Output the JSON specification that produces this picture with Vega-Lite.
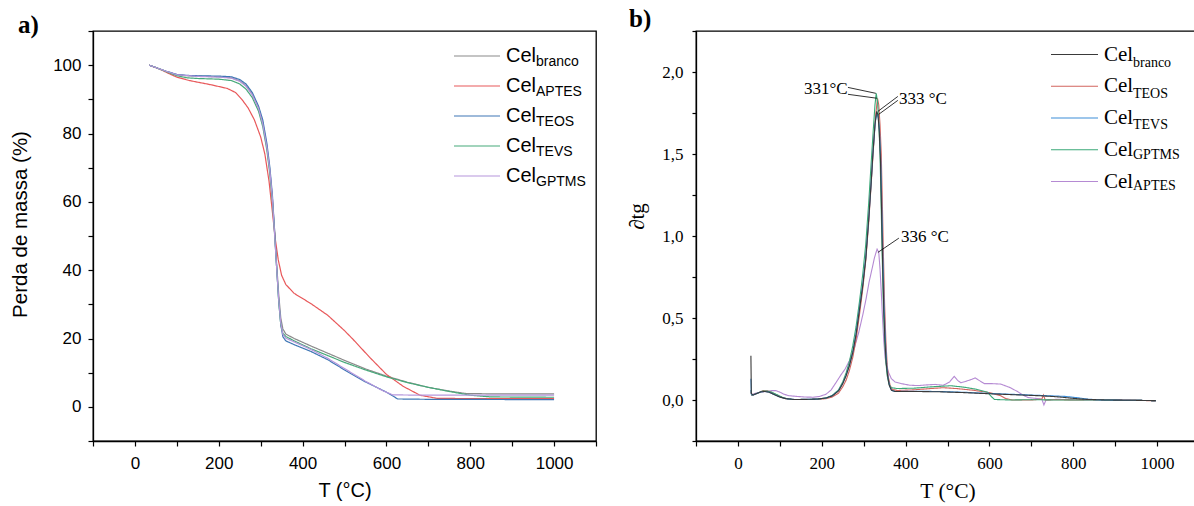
{
  "$schema": "https://vega.github.io/schema/vega-lite/v6.json",
  "background": "white",
  "padding": {"left": 9, "top": 6, "right": 0, "bottom": 0},
  "bounds": "flush",
  "spacing": 100,
  "resolve": {"scale": {"color": "independent", "strokeDash": "independent", "x": "independent", "y": "independent"}, "legend": {"color": "independent", "strokeDash": "independent"}},
  "config": {
    "view": {"stroke": "black", "strokeWidth": 1.3},
    "axis": {"grid": false, "domainColor": "black", "tickColor": "black", "labelColor": "black", "titleColor": "black", "titleFontWeight": "normal", "tickSize": 5, "domainWidth": 1.3, "tickWidth": 1.2}
  },
  "datasets": {
    "tga": [
      {"s":"branco","T":34,"m":100},{"s":"branco","T":50,"m":99.3},{"s":"branco","T":75,"m":98.2},{"s":"branco","T":100,"m":97.2},{"s":"branco","T":125,"m":96.9},{"s":"branco","T":150,"m":96.8},{"s":"branco","T":200,"m":96.6},{"s":"branco","T":230,"m":96.3},{"s":"branco","T":250,"m":95.4},{"s":"branco","T":265,"m":94},{"s":"branco","T":280,"m":91.5},{"s":"branco","T":295,"m":87.5},{"s":"branco","T":305,"m":83},{"s":"branco","T":315,"m":76},{"s":"branco","T":322,"m":69},{"s":"branco","T":328,"m":61},{"s":"branco","T":333,"m":52},{"s":"branco","T":338,"m":42},{"s":"branco","T":343,"m":33},{"s":"branco","T":348,"m":26},{"s":"branco","T":353,"m":22.8},{"s":"branco","T":360,"m":21.3},{"s":"branco","T":380,"m":20},{"s":"branco","T":420,"m":17.8},{"s":"branco","T":460,"m":15.7},{"s":"branco","T":500,"m":13.6},{"s":"branco","T":550,"m":11.1},{"s":"branco","T":600,"m":9},{"s":"branco","T":650,"m":7.2},{"s":"branco","T":700,"m":5.7},{"s":"branco","T":750,"m":4.6},{"s":"branco","T":790,"m":3.9},{"s":"branco","T":850,"m":3.8},{"s":"branco","T":1000,"m":3.8},
      {"s":"APTES","T":34,"m":100},{"s":"APTES","T":60,"m":98.8},{"s":"APTES","T":80,"m":97.6},{"s":"APTES","T":100,"m":96.5},{"s":"APTES","T":130,"m":95.5},{"s":"APTES","T":180,"m":94.3},{"s":"APTES","T":220,"m":93.2},{"s":"APTES","T":240,"m":92},{"s":"APTES","T":255,"m":90},{"s":"APTES","T":270,"m":87.5},{"s":"APTES","T":285,"m":84},{"s":"APTES","T":300,"m":79},{"s":"APTES","T":310,"m":74},{"s":"APTES","T":320,"m":66},{"s":"APTES","T":328,"m":57},{"s":"APTES","T":335,"m":49},{"s":"APTES","T":342,"m":43},{"s":"APTES","T":350,"m":38.5},{"s":"APTES","T":360,"m":35.8},{"s":"APTES","T":380,"m":33.2},{"s":"APTES","T":420,"m":30.2},{"s":"APTES","T":460,"m":26.8},{"s":"APTES","T":500,"m":22.3},{"s":"APTES","T":520,"m":19.8},{"s":"APTES","T":560,"m":14.5},{"s":"APTES","T":600,"m":9.5},{"s":"APTES","T":640,"m":6},{"s":"APTES","T":680,"m":3.4},{"s":"APTES","T":720,"m":2.5},{"s":"APTES","T":800,"m":2.4},{"s":"APTES","T":1000,"m":2.4},
      {"s":"TEOS","T":34,"m":100},{"s":"TEOS","T":50,"m":99.3},{"s":"TEOS","T":75,"m":98.2},{"s":"TEOS","T":100,"m":97.3},{"s":"TEOS","T":125,"m":97},{"s":"TEOS","T":150,"m":96.9},{"s":"TEOS","T":200,"m":96.8},{"s":"TEOS","T":230,"m":96.6},{"s":"TEOS","T":250,"m":95.8},{"s":"TEOS","T":265,"m":94.5},{"s":"TEOS","T":280,"m":92},{"s":"TEOS","T":295,"m":88},{"s":"TEOS","T":305,"m":84},{"s":"TEOS","T":315,"m":77},{"s":"TEOS","T":322,"m":70},{"s":"TEOS","T":328,"m":62},{"s":"TEOS","T":333,"m":52},{"s":"TEOS","T":338,"m":41},{"s":"TEOS","T":343,"m":31},{"s":"TEOS","T":348,"m":24},{"s":"TEOS","T":353,"m":20.5},{"s":"TEOS","T":360,"m":19.3},{"s":"TEOS","T":380,"m":18.2},{"s":"TEOS","T":420,"m":16.2},{"s":"TEOS","T":460,"m":13.8},{"s":"TEOS","T":500,"m":10.8},{"s":"TEOS","T":550,"m":7.3},{"s":"TEOS","T":600,"m":4.3},{"s":"TEOS","T":627,"m":2.3},{"s":"TEOS","T":700,"m":2.2},{"s":"TEOS","T":1000,"m":2.1},
      {"s":"TEVS","T":34,"m":100},{"s":"TEVS","T":50,"m":99.3},{"s":"TEVS","T":75,"m":98.1},{"s":"TEVS","T":100,"m":96.9},{"s":"TEVS","T":125,"m":96.3},{"s":"TEVS","T":150,"m":96.1},{"s":"TEVS","T":200,"m":95.9},{"s":"TEVS","T":230,"m":95.5},{"s":"TEVS","T":250,"m":94.5},{"s":"TEVS","T":265,"m":93},{"s":"TEVS","T":280,"m":90.5},{"s":"TEVS","T":295,"m":86.5},{"s":"TEVS","T":305,"m":82},{"s":"TEVS","T":315,"m":75},{"s":"TEVS","T":322,"m":68},{"s":"TEVS","T":328,"m":60},{"s":"TEVS","T":333,"m":51},{"s":"TEVS","T":338,"m":41},{"s":"TEVS","T":343,"m":31},{"s":"TEVS","T":348,"m":24},{"s":"TEVS","T":353,"m":21.5},{"s":"TEVS","T":360,"m":20.6},{"s":"TEVS","T":380,"m":19.3},{"s":"TEVS","T":420,"m":17},{"s":"TEVS","T":460,"m":15},{"s":"TEVS","T":500,"m":13},{"s":"TEVS","T":550,"m":10.8},{"s":"TEVS","T":600,"m":8.8},{"s":"TEVS","T":650,"m":7.1},{"s":"TEVS","T":700,"m":5.7},{"s":"TEVS","T":750,"m":4.5},{"s":"TEVS","T":800,"m":3.4},{"s":"TEVS","T":850,"m":2.9},{"s":"TEVS","T":1000,"m":2.8},
      {"s":"GPTMS","T":34,"m":100},{"s":"GPTMS","T":50,"m":99.3},{"s":"GPTMS","T":75,"m":98.2},{"s":"GPTMS","T":100,"m":97.2},{"s":"GPTMS","T":150,"m":96.7},{"s":"GPTMS","T":200,"m":96.5},{"s":"GPTMS","T":230,"m":96.2},{"s":"GPTMS","T":250,"m":95.3},{"s":"GPTMS","T":265,"m":93.8},{"s":"GPTMS","T":280,"m":91.3},{"s":"GPTMS","T":295,"m":87.3},{"s":"GPTMS","T":305,"m":82.8},{"s":"GPTMS","T":315,"m":75.8},{"s":"GPTMS","T":322,"m":69},{"s":"GPTMS","T":328,"m":61},{"s":"GPTMS","T":333,"m":51},{"s":"GPTMS","T":338,"m":41},{"s":"GPTMS","T":343,"m":31.5},{"s":"GPTMS","T":348,"m":24.5},{"s":"GPTMS","T":353,"m":21.2},{"s":"GPTMS","T":360,"m":20.1},{"s":"GPTMS","T":380,"m":19},{"s":"GPTMS","T":420,"m":16.8},{"s":"GPTMS","T":460,"m":14.2},{"s":"GPTMS","T":500,"m":11.2},{"s":"GPTMS","T":550,"m":7.5},{"s":"GPTMS","T":590,"m":4.8},{"s":"GPTMS","T":615,"m":3.5},{"s":"GPTMS","T":700,"m":3.4},{"s":"GPTMS","T":1000,"m":3.4}
    ],
    "dtg": [
      {"s":"APTES","T":31,"d":0.06},{"s":"APTES","T":33,"d":0.03},{"s":"APTES","T":40,"d":0.04},{"s":"APTES","T":50,"d":0.045},{"s":"APTES","T":60,"d":0.05},{"s":"APTES","T":70,"d":0.053},{"s":"APTES","T":80,"d":0.057},{"s":"APTES","T":91,"d":0.057},{"s":"APTES","T":100,"d":0.048},{"s":"APTES","T":110,"d":0.035},{"s":"APTES","T":122,"d":0.026},{"s":"APTES","T":140,"d":0.022},{"s":"APTES","T":160,"d":0.018},{"s":"APTES","T":180,"d":0.017},{"s":"APTES","T":195,"d":0.022},{"s":"APTES","T":210,"d":0.035},{"s":"APTES","T":222,"d":0.06},{"s":"APTES","T":235,"d":0.11},{"s":"APTES","T":245,"d":0.15},{"s":"APTES","T":256,"d":0.19},{"s":"APTES","T":266,"d":0.24},{"s":"APTES","T":277,"d":0.31},{"s":"APTES","T":288,"d":0.41},{"s":"APTES","T":298,"d":0.52},{"s":"APTES","T":306,"d":0.62},{"s":"APTES","T":313,"d":0.72},{"s":"APTES","T":320,"d":0.8},{"s":"APTES","T":326,"d":0.87},{"s":"APTES","T":332,"d":0.92},{"s":"APTES","T":336,"d":0.9},{"s":"APTES","T":339,"d":0.8},{"s":"APTES","T":342,"d":0.66},{"s":"APTES","T":345,"d":0.5},{"s":"APTES","T":348,"d":0.36},{"s":"APTES","T":351,"d":0.26},{"s":"APTES","T":355,"d":0.2},{"s":"APTES","T":360,"d":0.165},{"s":"APTES","T":366,"d":0.13},{"s":"APTES","T":375,"d":0.11},{"s":"APTES","T":390,"d":0.1},{"s":"APTES","T":410,"d":0.09},{"s":"APTES","T":430,"d":0.088},{"s":"APTES","T":450,"d":0.092},{"s":"APTES","T":470,"d":0.095},{"s":"APTES","T":490,"d":0.09},{"s":"APTES","T":505,"d":0.11},{"s":"APTES","T":516,"d":0.144},{"s":"APTES","T":524,"d":0.12},{"s":"APTES","T":532,"d":0.105},{"s":"APTES","T":545,"d":0.115},{"s":"APTES","T":557,"d":0.125},{"s":"APTES","T":566,"d":0.135},{"s":"APTES","T":575,"d":0.12},{"s":"APTES","T":588,"d":0.1},{"s":"APTES","T":605,"d":0.1},{"s":"APTES","T":627,"d":0.097},{"s":"APTES","T":650,"d":0.075},{"s":"APTES","T":668,"d":0.05},{"s":"APTES","T":680,"d":0.03},{"s":"APTES","T":692,"d":0.015},{"s":"APTES","T":710,"d":0.01},{"s":"APTES","T":725,"d":0.005},{"s":"APTES","T":730,"d":-0.03},{"s":"APTES","T":735,"d":0},{"s":"APTES","T":760,"d":0.004},{"s":"APTES","T":800,"d":0.002},{"s":"APTES","T":850,"d":0},{"s":"APTES","T":900,"d":0.002},{"s":"APTES","T":950,"d":-0.002},{"s":"APTES","T":997,"d":-0.004},
      {"s":"TEOS","T":31,"d":0.05},{"s":"TEOS","T":33,"d":0.03},{"s":"TEOS","T":40,"d":0.035},{"s":"TEOS","T":50,"d":0.045},{"s":"TEOS","T":60,"d":0.057},{"s":"TEOS","T":70,"d":0.056},{"s":"TEOS","T":80,"d":0.047},{"s":"TEOS","T":95,"d":0.028},{"s":"TEOS","T":110,"d":0.01},{"s":"TEOS","T":130,"d":0.003},{"s":"TEOS","T":165,"d":0.003},{"s":"TEOS","T":190,"d":0.004},{"s":"TEOS","T":210,"d":0.008},{"s":"TEOS","T":225,"d":0.018},{"s":"TEOS","T":240,"d":0.042},{"s":"TEOS","T":250,"d":0.08},{"s":"TEOS","T":258,"d":0.12},{"s":"TEOS","T":266,"d":0.18},{"s":"TEOS","T":274,"d":0.26},{"s":"TEOS","T":282,"d":0.37},{"s":"TEOS","T":290,"d":0.52},{"s":"TEOS","T":298,"d":0.68},{"s":"TEOS","T":305,"d":0.85},{"s":"TEOS","T":312,"d":1.08},{"s":"TEOS","T":318,"d":1.32},{"s":"TEOS","T":323,"d":1.52},{"s":"TEOS","T":328,"d":1.72},{"s":"TEOS","T":333,"d":1.84},{"s":"TEOS","T":336,"d":1.8},{"s":"TEOS","T":339,"d":1.68},{"s":"TEOS","T":342,"d":1.5},{"s":"TEOS","T":345,"d":1.15},{"s":"TEOS","T":347,"d":0.9},{"s":"TEOS","T":350,"d":0.58},{"s":"TEOS","T":353,"d":0.36},{"s":"TEOS","T":356,"d":0.22},{"s":"TEOS","T":359,"d":0.14},{"s":"TEOS","T":363,"d":0.09},{"s":"TEOS","T":368,"d":0.065},{"s":"TEOS","T":380,"d":0.058},{"s":"TEOS","T":420,"d":0.062},{"s":"TEOS","T":460,"d":0.07},{"s":"TEOS","T":490,"d":0.075},{"s":"TEOS","T":520,"d":0.07},{"s":"TEOS","T":560,"d":0.06},{"s":"TEOS","T":600,"d":0.045},{"s":"TEOS","T":625,"d":0.028},{"s":"TEOS","T":640,"d":0.008},{"s":"TEOS","T":655,"d":0},{"s":"TEOS","T":700,"d":0},{"s":"TEOS","T":725,"d":0.005},{"s":"TEOS","T":729,"d":0.03},{"s":"TEOS","T":733,"d":0},{"s":"TEOS","T":760,"d":0.002},{"s":"TEOS","T":800,"d":0},{"s":"TEOS","T":850,"d":0.002},{"s":"TEOS","T":900,"d":0},{"s":"TEOS","T":950,"d":-0.001},{"s":"TEOS","T":997,"d":-0.006},
      {"s":"GPTMS","T":31,"d":0.06},{"s":"GPTMS","T":33,"d":0.03},{"s":"GPTMS","T":40,"d":0.035},{"s":"GPTMS","T":50,"d":0.045},{"s":"GPTMS","T":60,"d":0.055},{"s":"GPTMS","T":70,"d":0.055},{"s":"GPTMS","T":80,"d":0.048},{"s":"GPTMS","T":95,"d":0.03},{"s":"GPTMS","T":110,"d":0.012},{"s":"GPTMS","T":130,"d":0.003},{"s":"GPTMS","T":165,"d":0.003},{"s":"GPTMS","T":190,"d":0.005},{"s":"GPTMS","T":210,"d":0.012},{"s":"GPTMS","T":225,"d":0.028},{"s":"GPTMS","T":240,"d":0.062},{"s":"GPTMS","T":250,"d":0.11},{"s":"GPTMS","T":258,"d":0.165},{"s":"GPTMS","T":266,"d":0.235},{"s":"GPTMS","T":274,"d":0.33},{"s":"GPTMS","T":282,"d":0.45},{"s":"GPTMS","T":290,"d":0.6},{"s":"GPTMS","T":298,"d":0.77},{"s":"GPTMS","T":305,"d":0.95},{"s":"GPTMS","T":312,"d":1.2},{"s":"GPTMS","T":318,"d":1.45},{"s":"GPTMS","T":323,"d":1.65},{"s":"GPTMS","T":327,"d":1.8},{"s":"GPTMS","T":330,"d":1.87},{"s":"GPTMS","T":333,"d":1.82},{"s":"GPTMS","T":336,"d":1.7},{"s":"GPTMS","T":339,"d":1.5},{"s":"GPTMS","T":342,"d":1.15},{"s":"GPTMS","T":344,"d":0.9},{"s":"GPTMS","T":347,"d":0.58},{"s":"GPTMS","T":350,"d":0.37},{"s":"GPTMS","T":353,"d":0.23},{"s":"GPTMS","T":356,"d":0.15},{"s":"GPTMS","T":360,"d":0.1},{"s":"GPTMS","T":365,"d":0.075},{"s":"GPTMS","T":380,"d":0.07},{"s":"GPTMS","T":420,"d":0.072},{"s":"GPTMS","T":460,"d":0.08},{"s":"GPTMS","T":508,"d":0.087},{"s":"GPTMS","T":540,"d":0.078},{"s":"GPTMS","T":570,"d":0.065},{"s":"GPTMS","T":596,"d":0.047},{"s":"GPTMS","T":605,"d":0.02},{"s":"GPTMS","T":612,"d":0.003},{"s":"GPTMS","T":650,"d":0},{"s":"GPTMS","T":700,"d":0.002},{"s":"GPTMS","T":760,"d":0},{"s":"GPTMS","T":850,"d":0},{"s":"GPTMS","T":950,"d":-0.002},{"s":"GPTMS","T":997,"d":-0.004},
      {"s":"TEVS","T":31,"d":0.13},{"s":"TEVS","T":32,"d":0.035},{"s":"TEVS","T":36,"d":0.03},{"s":"TEVS","T":45,"d":0.04},{"s":"TEVS","T":55,"d":0.05},{"s":"TEVS","T":65,"d":0.052},{"s":"TEVS","T":75,"d":0.047},{"s":"TEVS","T":85,"d":0.035},{"s":"TEVS","T":100,"d":0.018},{"s":"TEVS","T":115,"d":0.008},{"s":"TEVS","T":135,"d":0.003},{"s":"TEVS","T":165,"d":0.004},{"s":"TEVS","T":190,"d":0.006},{"s":"TEVS","T":210,"d":0.012},{"s":"TEVS","T":225,"d":0.026},{"s":"TEVS","T":240,"d":0.057},{"s":"TEVS","T":250,"d":0.1},{"s":"TEVS","T":258,"d":0.15},{"s":"TEVS","T":266,"d":0.21},{"s":"TEVS","T":274,"d":0.29},{"s":"TEVS","T":282,"d":0.41},{"s":"TEVS","T":290,"d":0.56},{"s":"TEVS","T":298,"d":0.71},{"s":"TEVS","T":305,"d":0.87},{"s":"TEVS","T":312,"d":1.1},{"s":"TEVS","T":318,"d":1.33},{"s":"TEVS","T":322,"d":1.5},{"s":"TEVS","T":328,"d":1.7},{"s":"TEVS","T":332,"d":1.75},{"s":"TEVS","T":335,"d":1.72},{"s":"TEVS","T":338,"d":1.63},{"s":"TEVS","T":341,"d":1.45},{"s":"TEVS","T":344,"d":1.1},{"s":"TEVS","T":346,"d":0.86},{"s":"TEVS","T":349,"d":0.55},{"s":"TEVS","T":352,"d":0.35},{"s":"TEVS","T":355,"d":0.22},{"s":"TEVS","T":358,"d":0.14},{"s":"TEVS","T":362,"d":0.085},{"s":"TEVS","T":367,"d":0.058},{"s":"TEVS","T":375,"d":0.052},{"s":"TEVS","T":420,"d":0.053},{"s":"TEVS","T":480,"d":0.052},{"s":"TEVS","T":540,"d":0.047},{"s":"TEVS","T":600,"d":0.04},{"s":"TEVS","T":660,"d":0.034},{"s":"TEVS","T":720,"d":0.028},{"s":"TEVS","T":780,"d":0.022},{"s":"TEVS","T":810,"d":0.014},{"s":"TEVS","T":835,"d":0.005},{"s":"TEVS","T":870,"d":0},{"s":"TEVS","T":950,"d":-0.002},{"s":"TEVS","T":997,"d":-0.004},
      {"s":"branco","T":31,"d":0.27},{"s":"branco","T":32,"d":0.04},{"s":"branco","T":36,"d":0.03},{"s":"branco","T":45,"d":0.04},{"s":"branco","T":55,"d":0.05},{"s":"branco","T":65,"d":0.052},{"s":"branco","T":75,"d":0.047},{"s":"branco","T":85,"d":0.035},{"s":"branco","T":100,"d":0.018},{"s":"branco","T":115,"d":0.008},{"s":"branco","T":135,"d":0.003},{"s":"branco","T":165,"d":0.004},{"s":"branco","T":190,"d":0.006},{"s":"branco","T":210,"d":0.012},{"s":"branco","T":225,"d":0.025},{"s":"branco","T":240,"d":0.055},{"s":"branco","T":250,"d":0.1},{"s":"branco","T":258,"d":0.148},{"s":"branco","T":266,"d":0.21},{"s":"branco","T":274,"d":0.29},{"s":"branco","T":282,"d":0.4},{"s":"branco","T":290,"d":0.55},{"s":"branco","T":298,"d":0.7},{"s":"branco","T":305,"d":0.86},{"s":"branco","T":312,"d":1.1},{"s":"branco","T":318,"d":1.33},{"s":"branco","T":322,"d":1.5},{"s":"branco","T":327,"d":1.68},{"s":"branco","T":331,"d":1.76},{"s":"branco","T":334,"d":1.74},{"s":"branco","T":337,"d":1.65},{"s":"branco","T":340,"d":1.47},{"s":"branco","T":343,"d":1.12},{"s":"branco","T":345,"d":0.86},{"s":"branco","T":348,"d":0.55},{"s":"branco","T":351,"d":0.35},{"s":"branco","T":354,"d":0.22},{"s":"branco","T":357,"d":0.15},{"s":"branco","T":361,"d":0.09},{"s":"branco","T":366,"d":0.06},{"s":"branco","T":375,"d":0.052},{"s":"branco","T":420,"d":0.052},{"s":"branco","T":480,"d":0.05},{"s":"branco","T":540,"d":0.045},{"s":"branco","T":600,"d":0.038},{"s":"branco","T":660,"d":0.032},{"s":"branco","T":720,"d":0.026},{"s":"branco","T":760,"d":0.02},{"s":"branco","T":800,"d":0.01},{"s":"branco","T":830,"d":0.004},{"s":"branco","T":880,"d":0},{"s":"branco","T":950,"d":-0.002},{"s":"branco","T":997,"d":-0.004}
    ],
    "leaders": [
      {"T":262.5,"d":1.906,"T2":329,"d2":1.87},
      {"T":262.5,"d":1.864,"T2":331.5,"d2":1.84},
      {"T":381.5,"d":1.851,"T2":334,"d2":1.76},
      {"T":381.5,"d":1.827,"T2":336,"d2":1.742},
      {"T":384,"d":0.987,"T2":334,"d2":0.9}
    ],
    "peaks": [
      {"T":157.6,"d":1.894,"label":"331°C"},
      {"T":384.3,"d":1.833,"label":"333 °C"},
      {"T":389,"d":0.993,"label":"336 °C"}
    ]
  },
  "hconcat": [
    {
      "width": 503,
      "height": 410,
      "title": {"text": "a)", "anchor": "start", "frame": "group", "dx": -75, "dy": 35.5, "offset": 0, "baseline": "alphabetic", "font": "Liberation Serif", "fontSize": 25, "fontWeight": "bold", "color": "black"},
      "data": {"name": "tga"},
      "transform": [{"calculate": "'_' + datum.s", "as": "s2"}],
      "mark": {"type": "line", "strokeWidth": 1.2},
      "encoding": {
        "x": {"field": "T", "type": "quantitative", "scale": {"domain": [-100, 1100], "nice": false, "zero": false},
          "axis": {"title": "T (°C)", "values": [-100,0,100,200,300,400,500,600,700,800,900,1000,1100], "labelExpr": "datum.value % 200 == 0 && datum.value >= 0 && datum.value <= 1000 ? format(datum.value, 'd') : ''", "labelFont": "Liberation Sans", "labelFontSize": 17, "labelPadding": 9, "titleFont": "Liberation Sans", "titleFontSize": 20, "titlePadding": 9, "labelFlush": false, "labelOverlap": false}},
        "y": {"field": "m", "type": "quantitative", "scale": {"domain": [-10, 110], "nice": false, "zero": false},
          "axis": {"title": "Perda de massa (%)", "values": [-10,0,10,20,30,40,50,60,70,80,90,100,110], "labelExpr": "datum.value % 20 == 0 && datum.value >= 0 && datum.value <= 100 ? format(datum.value, 'd') : ''", "labelFont": "Liberation Sans", "labelFontSize": 17, "labelPadding": 7, "titleFont": "Liberation Sans", "titleFontSize": 20.5, "titlePadding": 22, "titleY": 193, "labelFlush": false, "labelOverlap": false}},
        "color": {"field": "s", "type": "nominal", "scale": {"domain": ["branco", "APTES", "TEOS", "TEVS", "GPTMS"], "range": ["#8a8a8a", "#e8585a", "#3f77b5", "#47a97a", "#b596dc"]},
          "legend": {"title": null, "orient": "none", "legendX": 360, "legendY": 15, "padding": 0, "symbolType": "stroke", "symbolSize": 2116, "symbolStrokeWidth": 1.2, "labelExpr": "'Cel'", "labelFont": "Liberation Sans", "labelFontSize": 20, "labelColor": "black", "labelOffset": 5, "rowPadding": 10, "clipHeight": 20}},
        "strokeDash": {"field": "s2", "type": "nominal", "scale": {"domain": ["_branco", "_APTES", "_TEOS", "_TEVS", "_GPTMS"], "range": [[1,0],[1,0],[1,0],[1,0],[1,0]]},
          "legend": {"title": null, "orient": "none", "legendX": 429, "legendY": 24, "padding": 0, "symbolSize": 1, "symbolOpacity": 0, "symbolStrokeWidth": 0, "labelExpr": "substring(datum.label, 1)", "labelFont": "Liberation Sans", "labelFontSize": 14, "labelColor": "black", "labelOffset": 0, "rowPadding": 16, "clipHeight": 14}}
      }
    },
    {
      "width": 503,
      "height": 410,
      "title": {"text": "b)", "anchor": "start", "frame": "group", "dx": -67, "dy": 30, "offset": 0, "baseline": "alphabetic", "font": "Liberation Serif", "fontSize": 25, "fontWeight": "bold", "color": "black"},
      "encoding": {
        "x": {"field": "T", "type": "quantitative", "scale": {"domain": [-100, 1100], "nice": false, "zero": false},
          "axis": {"title": "T (°C)", "values": [-100,0,100,200,300,400,500,600,700,800,900,1000,1100], "labelExpr": "datum.value % 200 == 0 && datum.value >= 0 && datum.value <= 1000 ? format(datum.value, 'd') : ''", "labelFont": "Liberation Serif", "labelFontSize": 17, "labelPadding": 9, "titleFont": "Liberation Serif", "titleFontSize": 21.5, "titlePadding": 9, "labelFlush": false, "labelOverlap": false}},
        "y": {"field": "d", "type": "quantitative", "scale": {"domain": [-0.25, 2.25], "nice": false, "zero": false},
          "axis": {"title": "∂tg", "values": [-0.25,0,0.25,0.5,0.75,1,1.25,1.5,1.75,2,2.25], "labelExpr": "(datum.value*100) % 50 == 0 && datum.value >= 0 && datum.value <= 2 ? replace(format(datum.value, '.1f'), '.', ',') : ''", "labelFont": "Liberation Serif", "labelFontSize": 17, "labelPadding": 9, "tickSize": 4, "titleFont": "Liberation Serif", "titleFontSize": 21, "titlePadding": 14, "titleY": 185, "labelFlush": false, "labelOverlap": false}}
      },
      "layer": [
        {
          "data": {"name": "dtg"},
          "transform": [{"calculate": "'_' + datum.s", "as": "s2"}],
          "mark": {"type": "line", "strokeWidth": 1.1},
          "encoding": {
            "color": {"field": "s", "type": "nominal", "scale": {"domain": ["branco", "TEOS", "TEVS", "GPTMS", "APTES"], "range": ["#3a3a3a", "#d2645e", "#3d8ed8", "#3aa877", "#b58ad3"]},
              "legend": {"title": null, "orient": "none", "legendX": 354, "legendY": 13, "padding": 0, "symbolType": "stroke", "symbolSize": 2209, "symbolStrokeWidth": 1.2, "labelExpr": "'Cel'", "labelFont": "Liberation Serif", "labelFontSize": 21, "labelColor": "black", "labelOffset": 5, "rowPadding": 9.75, "clipHeight": 21}},
            "strokeDash": {"field": "s2", "type": "nominal", "scale": {"domain": ["_branco", "_TEOS", "_TEVS", "_GPTMS", "_APTES"], "range": [[1,0],[1,0],[1,0],[1,0],[1,0]]},
              "legend": {"title": null, "orient": "none", "legendX": 423, "legendY": 25, "padding": 0, "symbolSize": 1, "symbolOpacity": 0, "symbolStrokeWidth": 0, "labelExpr": "substring(datum.label, 1)", "labelFont": "Liberation Serif", "labelFontSize": 14, "labelColor": "black", "labelOffset": 0, "rowPadding": 16.75, "clipHeight": 14}}
          }
        },
        {
          "data": {"name": "leaders"},
          "mark": {"type": "rule", "color": "black", "strokeWidth": 0.8},
          "encoding": {"x2": {"field": "T2"}, "y2": {"field": "d2"}}
        },
        {
          "data": {"name": "peaks"},
          "mark": {"type": "text", "align": "left", "baseline": "middle", "font": "Liberation Serif", "fontSize": 17, "color": "black"},
          "encoding": {"text": {"field": "label"}}
        }
      ]
    }
  ]
}
